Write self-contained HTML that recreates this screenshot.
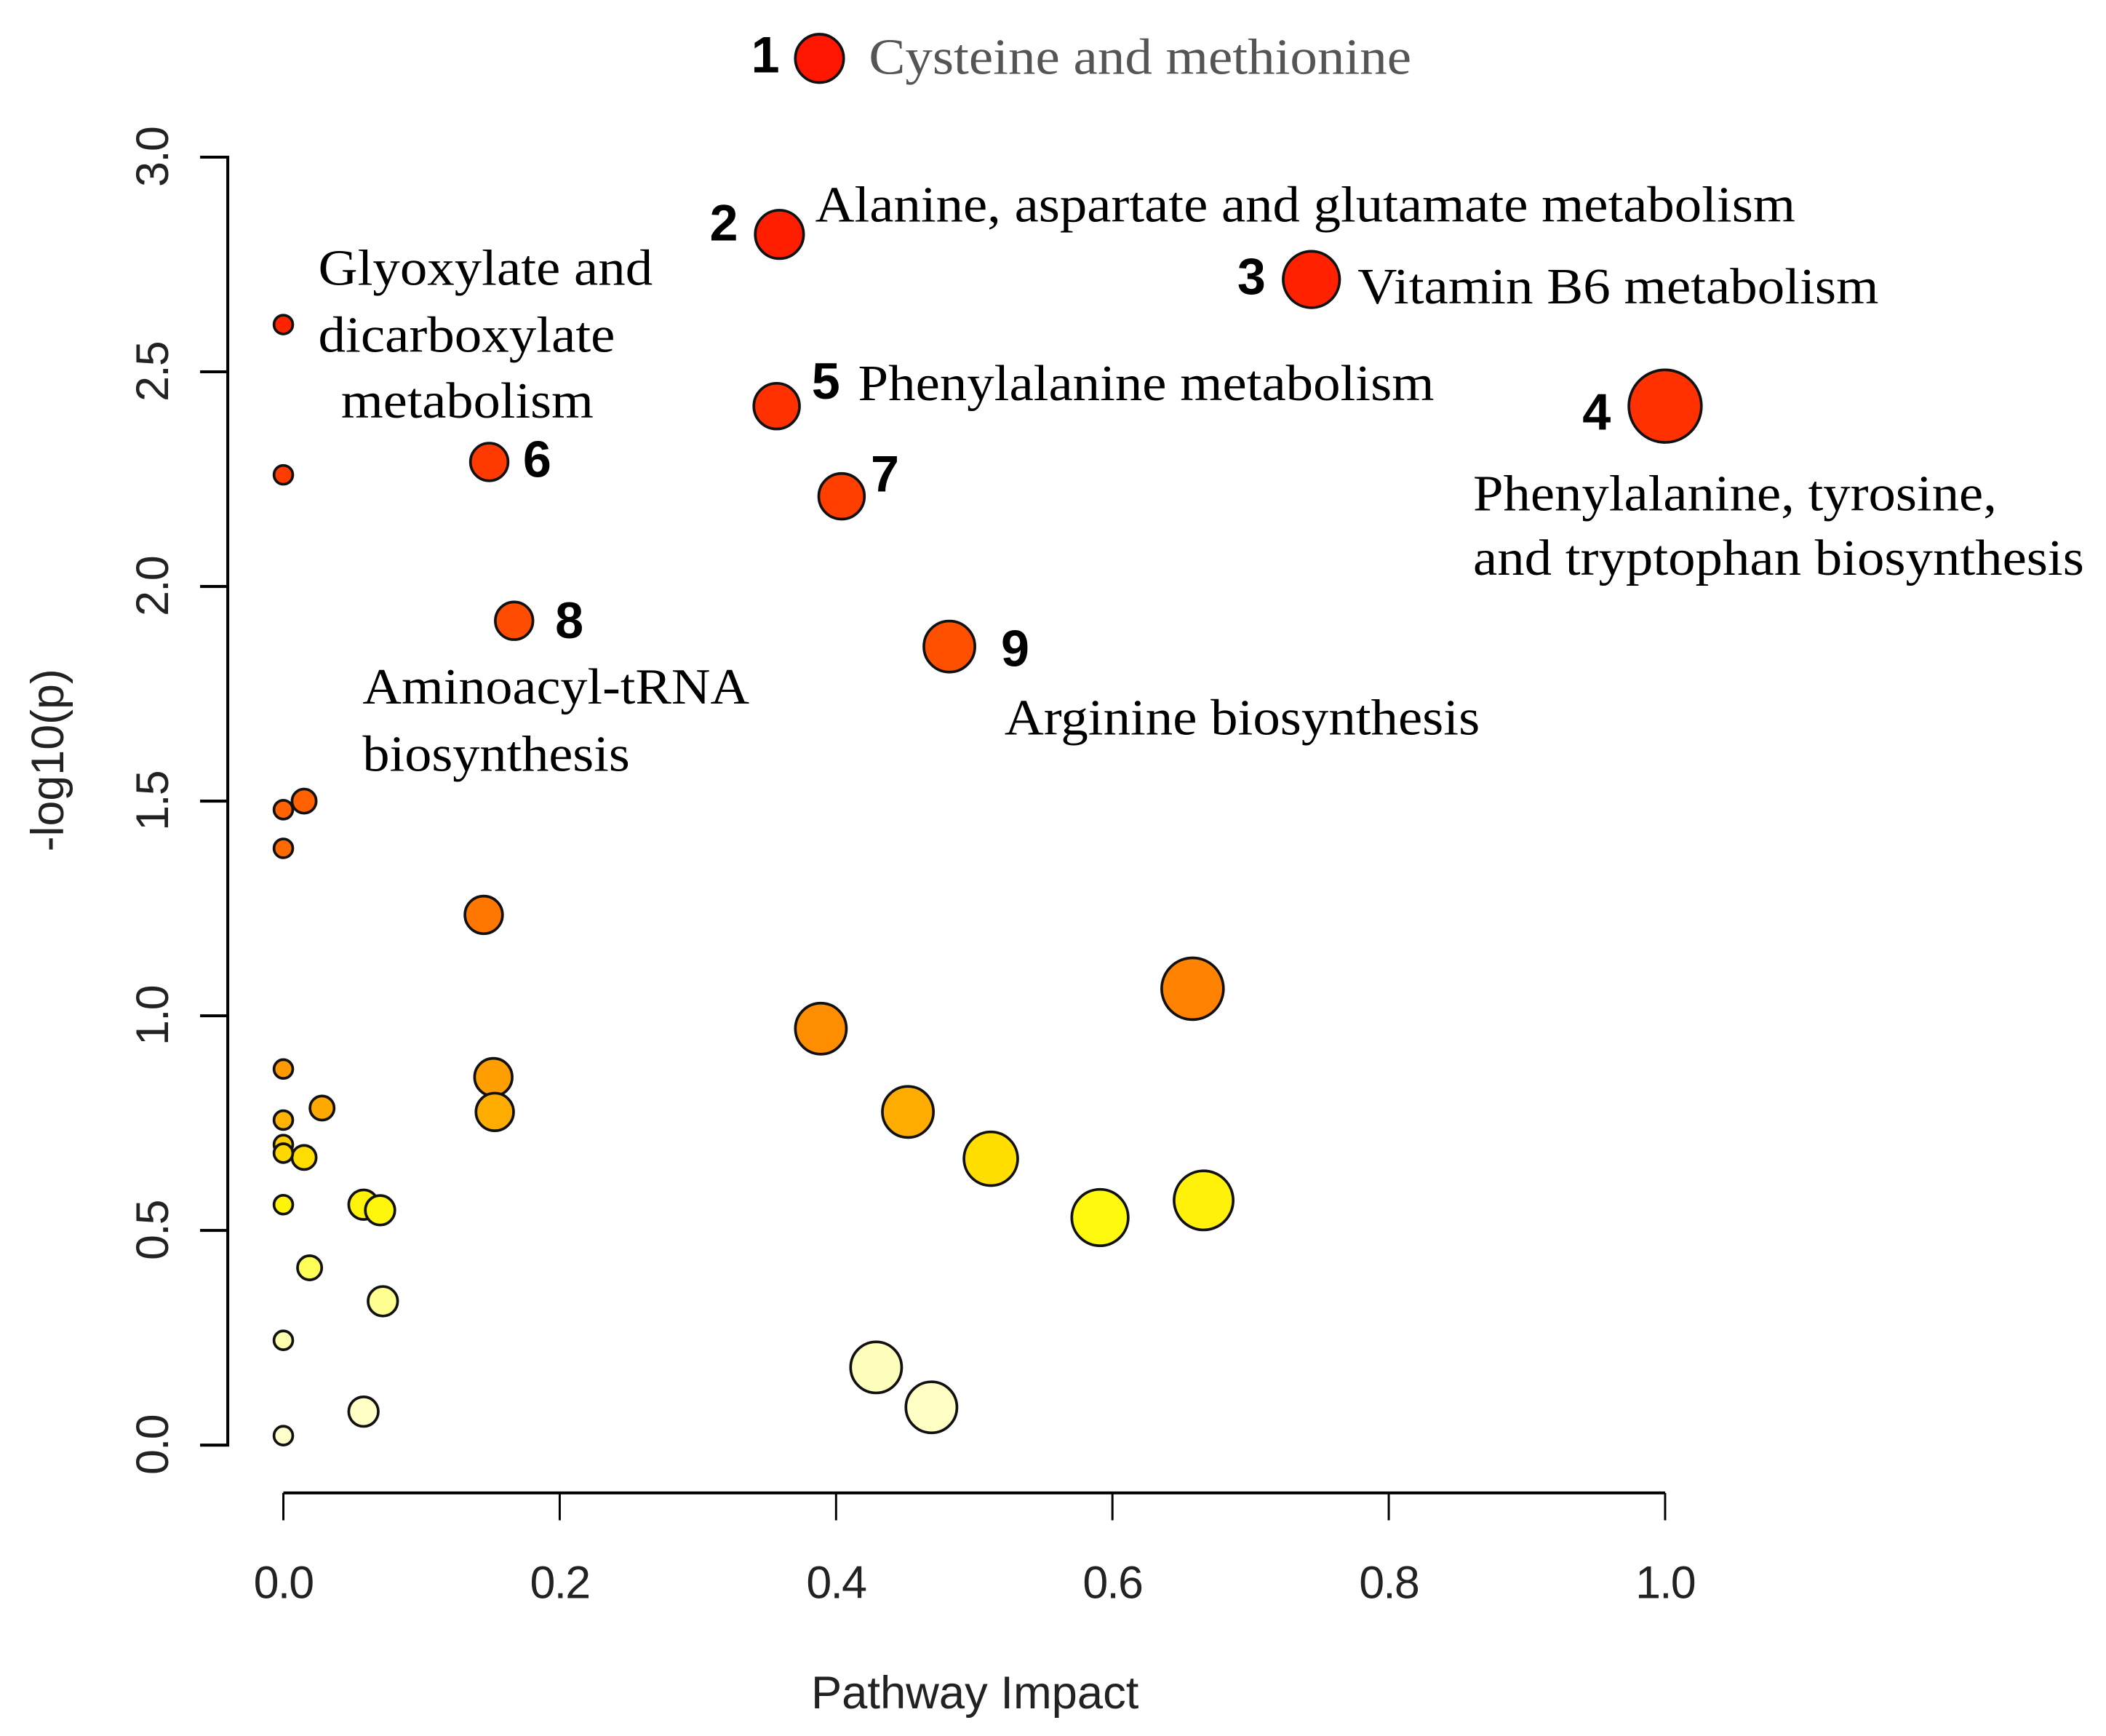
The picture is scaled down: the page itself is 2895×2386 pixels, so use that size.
<!DOCTYPE html>
<html><head><meta charset="utf-8">
<style>html,body{margin:0;padding:0;background:#fff}svg{display:block}</style>
</head><body>
<svg id="chart" width="2895" height="2386" viewBox="0 0 1568.3 1292.6" xmlns="http://www.w3.org/2000/svg">
<g id="axes"></g>
<g id="points"></g>
<g id="labels" font-family="'Liberation Serif', serif" font-size="38" fill="#000"></g>
</svg>
<script>
const impacts = [0.388,0.359,0.744,1.0,0.357,0.149,0.404,0.167,0.482,
 0,0,0,0.015,0,0.145,0.658,0.389,0.152,0,0.028,0.153,0.452,0,0,0,0.015,0.512,0.666,0.591,0.058,0.07,0,0.019,0.072,0,0.429,0.469,0.058,0];
const logp = [3.23,2.82,2.715,2.42,2.42,2.29,2.21,1.92,1.86,
 2.61,2.26,1.48,1.50,1.39,1.235,1.063,0.97,0.857,0.876,0.785,0.776,0.776,0.757,0.70,0.68,0.67,0.667,0.57,0.53,0.56,0.547,0.56,0.413,0.335,0.244,0.181,0.088,0.078,0.022];
const sizes = [18,18,21,27,17,14,17,14,19,
 7,7,7,9,7,14,23,19,14,7,9,14,19,7,7,7,9,20,22,21,11,11,7,9,11,7,19,19,11,7];
const xTicks = ["0.0","0.2","0.4","0.6","0.8","1.0"];
const yTicks = ["0.0","0.5","1.0","1.5","2.0","2.5","3.0"];

const NS="http://www.w3.org/2000/svg";
const X0=211, X1=1240, Y0=1076, Y3=117;
const xs=v=>X0+(X1-X0)*v;
const ys=v=>Y0-(Y0-Y3)*v/3;
function mk(tag,attrs,parent){const e=document.createElementNS(NS,tag);for(const k in attrs)e.setAttribute(k,attrs[k]);parent.appendChild(e);return e;}
const stops=[[0,[255,255,205]],[0.2,[255,255,187]],[0.35,[255,255,140]],[0.5,[255,255,16]],[0.67,[255,221,0]],[0.78,[255,170,0]],[1.0,[255,136,0]],[1.25,[255,118,0]],[1.5,[255,96,0]],[1.9,[255,78,0]],[2.3,[255,58,0]],[2.6,[255,36,0]],[3.3,[255,20,0]]];
function col(v){for(let i=1;i<stops.length;i++){if(v<=stops[i][0]){const a=stops[i-1],b=stops[i];const t=Math.max(0,(v-a[0])/(b[0]-a[0]));const c=a[1].map((q,j)=>Math.round(q+(b[1][j]-q)*t));return`rgb(${c.join(',')})`;}}return'rgb(255,20,0)';}

const AF="'Liberation Sans',sans-serif";
const ax=document.getElementById('axes');
const yAxis=mk('path',{d:`M149 ${ys(3)} H169.6 V${ys(0)} H149`,stroke:'#000','stroke-width':2.2,fill:'none'},ax);


yTicks.forEach((t,i)=>{
  const v=parseFloat(t);
  if(i>0&&i<yTicks.length-1){const tk=mk('line',{x1:149,x2:169.6,y1:ys(v),y2:ys(v),stroke:'#000','stroke-width':2.2},ax);
  
  }
  const tx=mk('text',{x:0,y:0,transform:`translate(125,${ys(v)}) rotate(-90)`,'text-anchor':'middle','font-family':AF,'font-size':34,'letter-spacing':-1,fill:'#222'},ax);
  tx.textContent=t;
  
  
});
const xAxis=mk('line',{x1:xs(0),x2:xs(1),y1:1111.6,y2:1111.6,stroke:'#000','stroke-width':2.2},ax);


xTicks.forEach(t=>{
  const v=parseFloat(t);
  const tk=mk('line',{x1:xs(v),x2:xs(v),y1:1111.6,y2:1132,stroke:'#000','stroke-width':1.6},ax);
  
  
  const tx=mk('text',{x:xs(v),y:1190,'text-anchor':'middle','font-family':AF,'font-size':34,'letter-spacing':-1,fill:'#222'},ax);
  tx.textContent=t;
  
  
});
const xl=mk('text',{x:726,y:1272,'text-anchor':'middle','font-family':AF,'font-size':34,textLength:244,lengthAdjust:'spacingAndGlyphs',fill:'#222'},ax);
xl.textContent='Pathway Impact';


const yl=mk('text',{x:0,y:0,transform:'translate(47,566) rotate(-90)','text-anchor':'middle','font-family':AF,'font-size':34,fill:'#222'},ax);
yl.textContent='-log10(p)';



const pg=document.getElementById('points');
const order=impacts.map((_,i)=>i).sort((a,b)=>sizes[b]-sizes[a]);
order.forEach(i=>{
  const c=mk('circle',{cx:xs(impacts[i]),cy:ys(logp[i]),r:sizes[i],fill:col(logp[i]),stroke:'#111','stroke-width':2},pg);
  
  
});

const lg=document.getElementById('labels');
const texts=[
 ['Cysteine and methionine',647,55,404,'label-cysteine','#555'],
 ['Alanine, aspartate and glutamate metabolism',607,165,730,'label-alanine'],
 ['Vitamin B6 metabolism',1011,226,388,'label-vitamin-b6'],
 ['Phenylalanine metabolism',639,298,429,'label-phenylalanine'],
 ['Phenylalanine, tyrosine,',1097,380,390,'label-phe-tyr-trp-1'],
 ['and tryptophan biosynthesis',1097,428,455,'label-phe-tyr-trp-2'],
 ['Glyoxylate and',237,212,249,'label-glyoxylate-1'],
 ['dicarboxylate',237,262,221,'label-glyoxylate-2'],
 ['metabolism',254,311,188,'label-glyoxylate-3'],
 ['Aminoacyl-tRNA',270,524,288,'label-aminoacyl-1'],
 ['biosynthesis',270,574,199,'label-aminoacyl-2'],
 ['Arginine biosynthesis',748,547,354,'label-arginine']
];
texts.forEach(t=>{
  const e=mk('text',{x:t[1],y:t[2],textLength:t[3],lengthAdjust:'spacingAndGlyphs'},lg);
  if(t[5])e.setAttribute('fill',t[5]);
  e.textContent=t[0];
  
  
});
const nums=[['1',570,41],['2',539,166],['3',932,206],['4',1189,307],['5',615,284],['6',400,342],['7',659,353],['8',424,462],['9',756,483]];
nums.forEach(n=>{
  const e=mk('text',{x:n[1],y:n[2]+13,'text-anchor':'middle','font-family':AF,'font-weight':'bold','font-size':38},lg);
  e.textContent=n[0];
  
  
});
</script>
</body></html>
